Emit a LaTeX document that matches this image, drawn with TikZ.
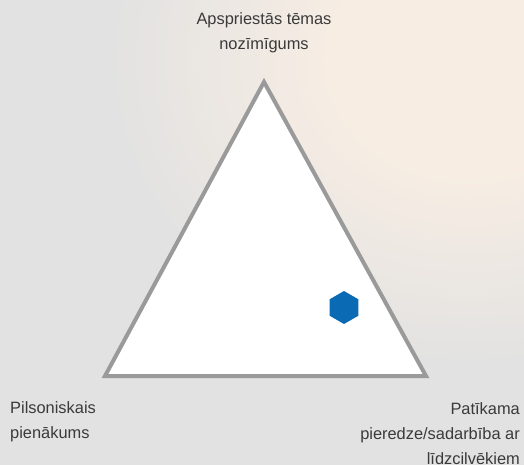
\documentclass[tikz,border=0pt]{standalone}
\usepackage{fontspec}
\setmainfont{Liberation Sans}
\usetikzlibrary{shapes.geometric}
\definecolor{bggray}{HTML}{E2E2E2}
\definecolor{warm}{HTML}{F7EDE3}
\definecolor{tricol}{HTML}{9A9A9A}
\definecolor{hexblue}{HTML}{0A6AB4}
\definecolor{txt}{HTML}{3A3A3A}
\pgfdeclareradialshading{warmglow}{\pgfpoint{0bp}{0bp}}{color(0bp)=(warm); color(9bp)=(warm); color(24bp)=(bggray); color(50bp)=(bggray)}
\begin{document}
\begin{tikzpicture}[x=1pt,y=-1pt,
  lbl/.style={text=txt,font=\fontsize{16.4}{25}\selectfont,inner sep=0pt},
  tri/.style={draw=tricol,line width=4pt,fill=white,line join=miter},
  hexmark/.style={regular polygon,regular polygon sides=6,shape border rotate=30,
    fill=hexblue,draw=none,minimum size=33pt,inner sep=0pt}]
\useasboundingbox (0,0) rectangle (524,465);
\fill[bggray] (0,0) rectangle (524,465);
\begin{scope}
  \clip (0,0) rectangle (524,465);
  \shade[shading=warmglow] (470,60) ellipse [x radius=380, y radius=320];
\end{scope}
\coordinate (top) at (264,82);
\coordinate (bl) at (105,376);
\coordinate (br) at (426,376);
\draw[tri] (top) -- (bl) -- (br) -- cycle;
\node[hexmark] (hex) at (344,307.5) {};
\node[lbl,align=center] (ttop) at (264,32.5) {Apspriestās tēmas\\nozīmīgums};
\node[lbl,align=left,anchor=west] (tleft) at (10,421.5) {Pilsoniskais\\pienākums};
\node[lbl,align=right,anchor=east] (tright) at (520,434) {Patīkama\\pieredze/sadarbība ar\\līdzcilvēkiem};
\end{tikzpicture}
\end{document}
